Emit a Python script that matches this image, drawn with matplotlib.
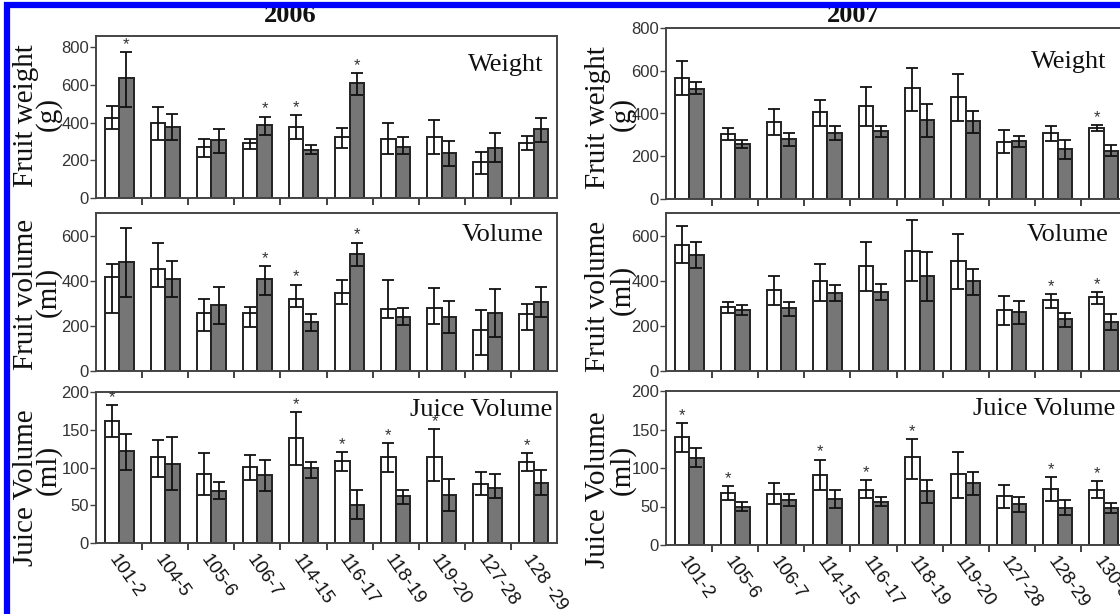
import matplotlib
matplotlib.use("Agg")
import matplotlib.pyplot as plt
from matplotlib.patches import Rectangle
import numpy as np

# ---------------- data ----------------
labels_2006 = ["101-2", "104-5", "105-6", "106-7", "114-15", "116-17",
               "118-19", "119-20", "127-28", "128 -29"]
labels_2007 = ["101-2", "105-6", "106-7", "114-15", "116-17", "118-19",
               "119-20", "127-28", "128-29", "130-31"]

# 2006 fruit weight (g)
w06_white = [426, 399, 273, 293, 379, 324, 315, 324, 189, 293]
w06_white_up = [65, 85, 42, 22, 63, 46, 82, 88, 54, 36]
w06_white_dn = [61, 93, 54, 32, 68, 58, 81, 92, 63, 36]
w06_gray = [638, 379, 307, 387, 255, 611, 273, 239, 268, 365]
w06_gray_up = [135, 69, 58, 45, 24, 54, 49, 61, 79, 61]
w06_gray_dn = [153, 73, 68, 54, 23, 63, 39, 68, 79, 68]
w06_star_white = [4]
w06_star_gray = [0, 3, 5]

# 2006 fruit volume (ml)
v06_white = [415, 451, 259, 256, 318, 344, 273, 279, 182, 253]
v06_white_up = [59, 118, 59, 29, 65, 59, 130, 90, 88, 43]
v06_white_dn = [156, 80, 83, 62, 36, 48, 38, 72, 111, 71]
v06_gray = [483, 409, 294, 406, 217, 519, 241, 238, 256, 306]
v06_gray_up = [152, 77, 80, 57, 36, 50, 37, 72, 109, 65]
v06_gray_dn = [156, 79, 87, 69, 41, 56, 37, 71, 107, 68]
v06_star_white = [4]
v06_star_gray = [3, 5]

# 2006 juice volume (ml)
j06_white = [162, 114, 91, 101, 139, 109, 114, 114, 78, 107]
j06_white_up = [21, 22, 28, 16, 35, 12, 18, 37, 16, 12]
j06_white_dn = [22, 26, 27, 18, 36, 14, 20, 32, 15, 11]
j06_gray = [122, 105, 69, 90, 99, 50, 62, 64, 73, 79]
j06_gray_up = [22, 36, 12, 20, 8, 20, 8, 21, 19, 18]
j06_gray_dn = [25, 35, 11, 21, 13, 18, 11, 22, 14, 16]
j06_star_white = [0, 4, 5, 6, 7, 9]
j06_star_gray = []

# 2007 fruit weight (g)
w07_white = [568, 303, 362, 406, 435, 519, 476, 269, 307, 332]
w07_white_up = [77, 27, 59, 58, 89, 94, 107, 53, 36, 15]
w07_white_dn = [81, 28, 62, 63, 92, 105, 113, 55, 35, 16]
w07_gray = [516, 259, 280, 311, 319, 370, 366, 272, 236, 225]
w07_gray_up = [30, 19, 27, 32, 24, 75, 44, 22, 39, 27]
w07_gray_dn = [24, 22, 32, 36, 28, 79, 55, 27, 50, 24]
w07_star_white = [9]
w07_star_gray = []

# 2007 fruit volume (ml)
v07_white = [560, 283, 360, 397, 467, 533, 486, 271, 313, 326]
v07_white_up = [84, 21, 62, 79, 105, 134, 121, 62, 28, 25]
v07_white_dn = [81, 27, 67, 86, 114, 136, 123, 67, 34, 28]
v07_gray = [513, 271, 279, 345, 350, 419, 397, 261, 230, 219]
v07_gray_up = [59, 21, 28, 37, 35, 107, 55, 50, 26, 33]
v07_gray_dn = [57, 22, 35, 37, 34, 111, 59, 52, 33, 37]
v07_star_white = [8, 9]
v07_star_gray = []

# 2007 juice volume (ml)
j07_white = [140, 67, 66, 91, 72, 114, 92, 63, 73, 72]
j07_white_up = [18, 9, 14, 20, 12, 24, 29, 15, 15, 11]
j07_white_dn = [19, 9, 13, 20, 11, 28, 31, 15, 16, 11]
j07_gray = [113, 50, 58, 60, 56, 70, 80, 53, 48, 48]
j07_gray_up = [13, 6, 8, 11, 6, 15, 15, 9, 10, 6]
j07_gray_dn = [12, 6, 7, 12, 5, 15, 15, 10, 9, 6]
j07_star_white = [0, 1, 3, 4, 5, 8, 9]
j07_star_gray = []

# ---------------- figure ----------------
W, H = 1120, 614
fig = plt.figure(figsize=(W / 100, H / 100), dpi=100)
fig.patch.set_facecolor("white")

SERIF = ["Liberation Serif", "DejaVu Serif"]
SANS = ["Liberation Sans", "DejaVu Sans"]
TXT = "#333333"
EDGE = "#222222"
GRAY = "#767676"


def px_axes(x0, y0, x1, y1):
    return fig.add_axes([x0 / W, 1 - y1 / H, (x1 - x0) / W, (y1 - y0) / H])


def panel(ax, white, wup, wdn, gray, gup, gdn, swhite, sgray, ymax, yticks,
          label, lab_x, lab_y, xlabels=None):
    n = len(white)
    centers = np.arange(n) + 0.5
    bw = 0.315
    ax.bar(centers - bw / 2, white, bw, color="white", edgecolor=EDGE,
           linewidth=1.4, zorder=2)
    ax.bar(centers + bw / 2, gray, bw, color=GRAY, edgecolor=EDGE,
           linewidth=1.4, zorder=2)
    ax.errorbar(centers - bw / 2, white, yerr=[wdn, wup], fmt="none",
                ecolor="#111111", elinewidth=1.3, capsize=4.5, capthick=1.3,
                zorder=3)
    ax.errorbar(centers + bw / 2, gray, yerr=[gdn, gup], fmt="none",
                ecolor="#111111", elinewidth=1.3, capsize=4.5, capthick=1.3,
                zorder=3)
    for i in swhite:
        ax.annotate("*", (centers[i] - bw / 2, white[i] + wup[i]),
                    xytext=(0, 0), textcoords="offset points", ha="center",
                    va="bottom", fontsize=12, color=TXT, family=SANS,
                    annotation_clip=False, zorder=4)
    for i in sgray:
        ax.annotate("*", (centers[i] + bw / 2, gray[i] + gup[i]),
                    xytext=(0, 0), textcoords="offset points", ha="center",
                    va="bottom", fontsize=12, color=TXT, family=SANS,
                    annotation_clip=False, zorder=4)
    ax.set_xlim(0, n)
    ax.set_ylim(0, ymax)
    ax.set_yticks(yticks)
    ax.set_yticklabels([str(t) for t in yticks], family=SANS, fontsize=12,
                       color=TXT)
    ax.tick_params(axis="y", length=4, width=1.0, color="#444444", pad=1)
    # ticks at group boundaries
    ax.set_xticks(np.arange(1, n), minor=True)
    ax.tick_params(axis="x", which="minor", length=5, width=1.3,
                   color="#333333", direction="out")
    if xlabels is not None:
        ax.set_xticks(centers)
        ax.set_xticklabels(xlabels, rotation=-55, ha="left",
                           rotation_mode="anchor", family=SANS, fontsize=13.5,
                           color="#111111")
        ax.tick_params(axis="x", which="major", length=0, pad=6)
    else:
        ax.set_xticks([])
    for s in ax.spines.values():
        s.set_color("#444444")
        s.set_linewidth(1.4)
    ax.text(lab_x, lab_y, label, transform=ax.transAxes, ha="right",
            va="center", family=SERIF, fontsize=19, color="#111111")


LX0, LX1 = 96, 557
RX0, RX1 = 666, 1127

ax = px_axes(LX0, 36, LX1, 198)
panel(ax, w06_white, w06_white_up, w06_white_dn, w06_gray, w06_gray_up,
      w06_gray_dn, w06_star_white, w06_star_gray, 860, [0, 200, 400, 600, 800],
      "Weight", 0.97, 0.82)
ax = px_axes(LX0, 213, LX1, 371)
panel(ax, v06_white, v06_white_up, v06_white_dn, v06_gray, v06_gray_up,
      v06_gray_dn, v06_star_white, v06_star_gray, 700, [0, 200, 400, 600],
      "Volume", 0.97, 0.86)
ax = px_axes(LX0, 392, LX1, 543)
panel(ax, j06_white, j06_white_up, j06_white_dn, j06_gray, j06_gray_up,
      j06_gray_dn, j06_star_white, j06_star_gray, 200, [0, 50, 100, 150, 200],
      "Juice Volume", 0.99, 0.88, xlabels=labels_2006)

ax = px_axes(RX0, 28, RX1, 199)
panel(ax, w07_white, w07_white_up, w07_white_dn, w07_gray, w07_gray_up,
      w07_gray_dn, w07_star_white, w07_star_gray, 800, [0, 200, 400, 600, 800],
      "Weight", 0.955, 0.80)
ax = px_axes(RX0, 213, RX1, 371)
panel(ax, v07_white, v07_white_up, v07_white_dn, v07_gray, v07_gray_up,
      v07_gray_dn, v07_star_white, v07_star_gray, 700, [0, 200, 400, 600],
      "Volume", 0.96, 0.86)
ax = px_axes(RX0, 391, RX1, 545)
panel(ax, j07_white, j07_white_up, j07_white_dn, j07_gray, j07_gray_up,
      j07_gray_dn, j07_star_white, j07_star_gray, 200, [0, 50, 100, 150, 200],
      "Juice Volume", 0.975, 0.88, xlabels=labels_2007)


# y labels (two lines each)
def ylab(x, y, s, size=21):
    fig.text(x / W, 1 - y / H, s, rotation=90, ha="center", va="center",
             family=SERIF, fontsize=size, color="#111111")


ylab(26, 116, "Fruit weight")
ylab(48, 114, "(g)")
ylab(26, 294, "Fruit volume")
ylab(48, 292, "(ml)")
ylab(26, 488, "Juice Volume")
ylab(48, 470, "(ml)")
ylab(598, 118, "Fruit weight")
ylab(622, 114, "(g)")
ylab(598, 296, "Fruit volume")
ylab(622, 290, "(ml)")
ylab(598, 490, "Juice Volume")
ylab(622, 470, "(ml)")

# titles
fig.text(290 / W, 1 - 15 / H, "2006", ha="center", va="center",
         family=SERIF, fontsize=19, fontweight="bold", color="#111111")
fig.text(853 / W, 1 - 15 / H, "2007", ha="center", va="center",
         family=SERIF, fontsize=19, fontweight="bold", color="#111111")

# blue frame
fig.patches.append(Rectangle((7 / W, -0.2), 1.5, 1.2 - 5 / H,
                             transform=fig.transFigure, fill=False,
                             edgecolor="#0000ff", linewidth=4.5, zorder=100))

fig.savefig("out.png", dpi=100, facecolor="white")
